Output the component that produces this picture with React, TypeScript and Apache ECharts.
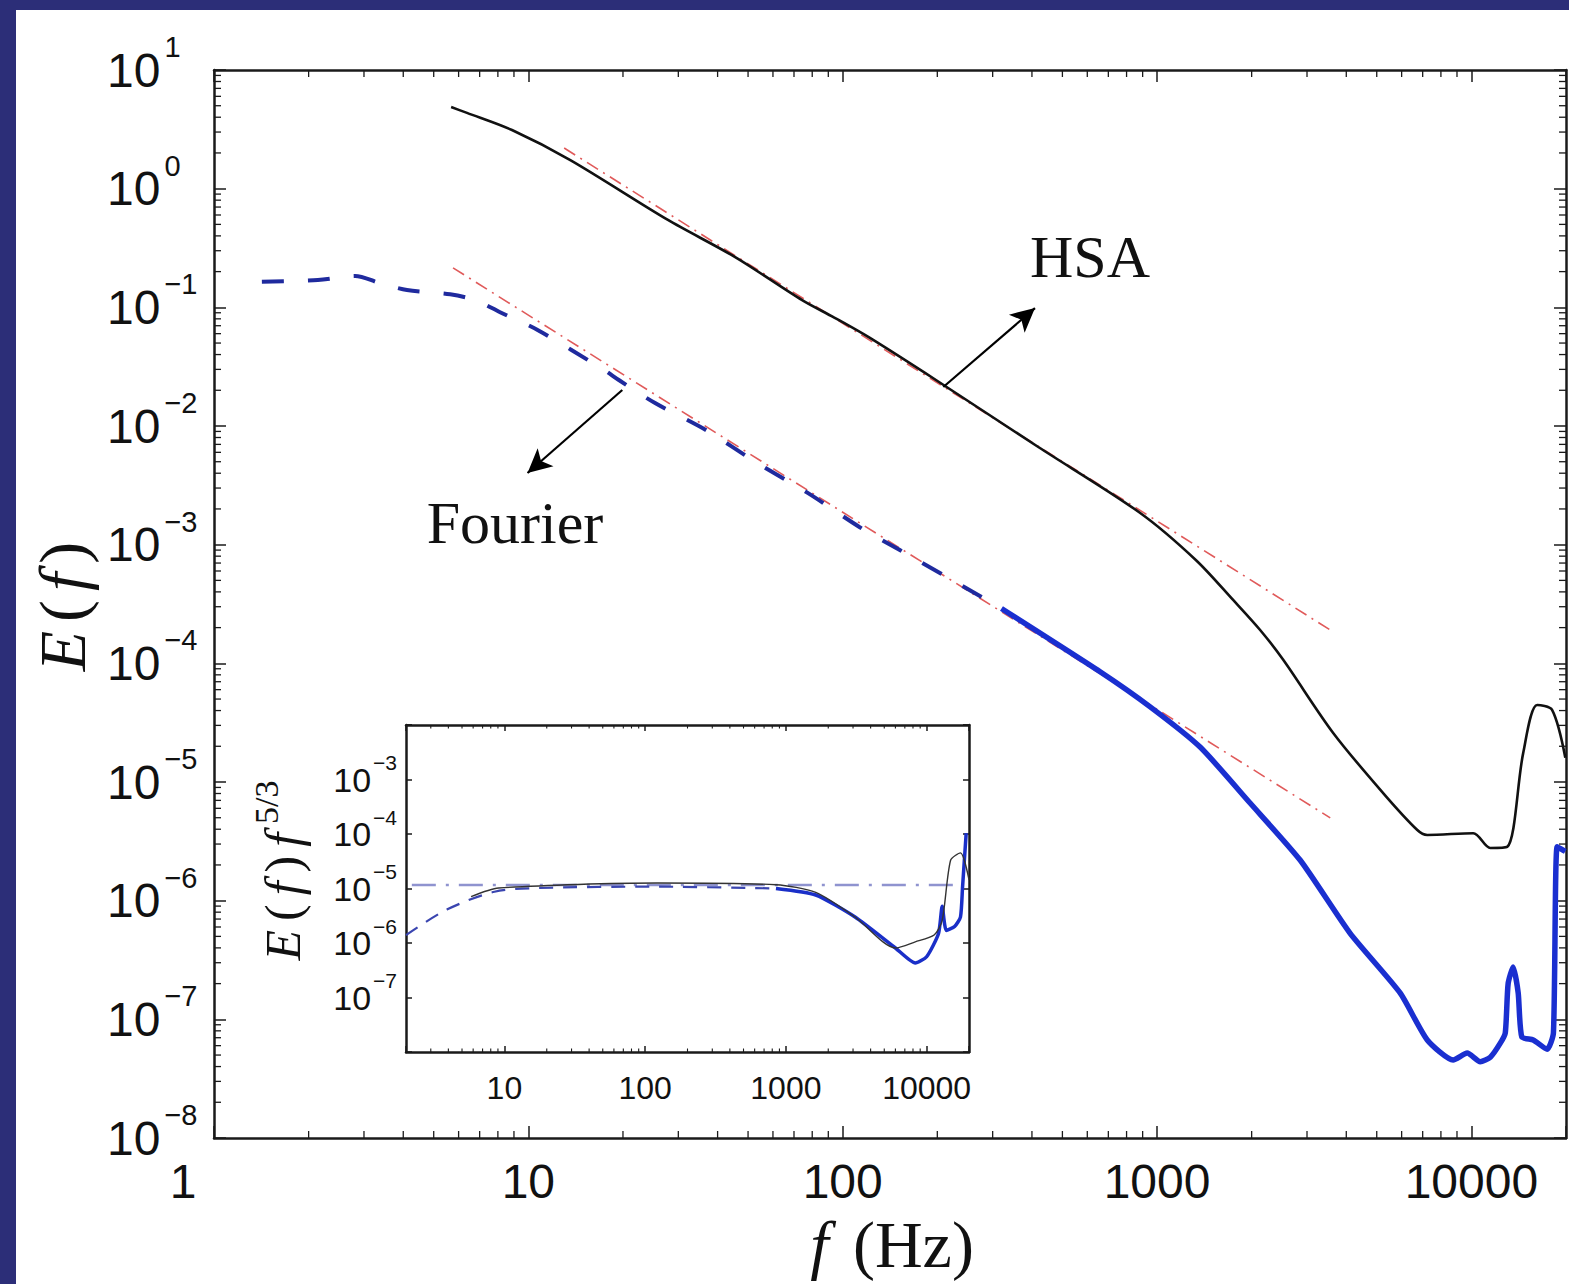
import React, { useEffect, useRef } from "react";
import * as echarts from "echarts";

// ---------- main plot data ----------
const hsaFreq = [5.68, 6.38, 8.87, 13.6, 27.8, 45.5, 74.3, 94, 121, 198, 419, 884, 1331, 1746, 2128, 2520, 3634, 5240, 6730, 7240, 10140, 11490, 13000, 14620, 16200, 18060, 19900];
const hsaE = [4.87, 4.35, 3.12, 1.74, 0.545, 0.265, 0.115, 0.082, 0.056, 0.0244, 0.00665, 0.00185, 7.4e-4, 3.42e-4, 1.91e-4, 1.07e-4, 2.59e-5, 8.07e-6, 3.94e-6, 3.58e-6, 3.7e-6, 2.78e-6, 2.84e-6, 1.76e-5, 4.45e-5, 4.05e-5, 1.6e-5];

const fourierLowFreq = [1.42, 2.14, 2.81, 3.37, 4.11, 5.64, 6.77, 8.13, 10.7, 17.4, 19.4, 25.3, 36.7, 53.4, 77.6, 113, 152, 320];
const fourierLowE = [0.164, 0.17, 0.184, 0.16, 0.14, 0.129, 0.115, 0.091, 0.0644, 0.0297, 0.0244, 0.0156, 0.00925, 0.00488, 0.00272, 0.00141, 9.0e-4, 2.9e-4];

const fourierHighFreq = [320, 659, 951, 1371, 1977, 2852, 4115, 5933, 7240, 8750, 9700, 10670, 11490, 12360, 12820, 13090, 13580, 14090, 14470, 15730, 17420, 18240, 18740, 19900];
const fourierHighE = [2.9e-4, 8.5e-5, 4.3e-5, 1.97e-5, 6.65e-6, 2.2e-6, 5.3e-7, 1.67e-7, 6.7e-8, 4.55e-8, 5.2e-8, 4.4e-8, 4.8e-8, 6.3e-8, 7.7e-8, 2.0e-7, 2.76e-7, 1.67e-7, 7.1e-8, 6.7e-8, 5.6e-8, 7.7e-8, 2.84e-6, 2.6e-6];

const refUpperFreq = [13, 3556];
const refUpperE = [2.2, 1.91e-4];
const refLowerFreq = [5.76, 3556];
const refLowerE = [0.215, 4.98e-6];

// ---------- inset data ----------
const insetBlueDashFreq = [2, 3.9, 8.5, 17.4, 122, 850];
const insetBlueDashE = [1.4e-6, 4.1e-6, 8.7e-6, 1.02e-5, 1.08e-5, 1.0e-5];
const insetBlueFreq = [850, 1630, 3100, 6000, 8300, 10000, 12150, 12900, 13800, 15800, 17400, 18000, 19100];
const insetBlueE = [1.0e-5, 7.6e-6, 3.0e-6, 8.1e-7, 4.3e-7, 5.6e-7, 1.5e-6, 4.7e-6, 1.7e-6, 2.0e-6, 3.0e-6, 1.07e-5, 1.04e-4];
const insetBlackFreq = [5.8, 9.1, 122, 850, 1630, 3100, 6000, 8300, 11300, 12900, 14800, 17400, 20000];
const insetBlackE = [7.1e-6, 1.02e-5, 1.26e-5, 1.17e-5, 8.5e-6, 3.0e-6, 8.1e-7, 1.05e-6, 1.4e-6, 2.6e-6, 3.3e-5, 4.5e-5, 1.45e-5];
const insetRefFreq = [2.2, 16000];
const insetRefE = [1.16e-5, 1.16e-5];

// ---------- annotation anchors (data coordinates) ----------
const hsaArrow = [[209, 0.0213], [409, 0.0986]];
const fourierArrow = [[19.9, 0.0201], [9.94, 0.00402]];
const hsaLabelAt = [612, 0.265];
const fourierLabelAt = [9.07, 0.00152];

// axis ranges / tick decades
const mainX = { min: 1, max: 20000 };
const mainY = { min: 1e-8, max: 10 };
const insetX = { min: 2, max: 20000 };
const insetY = { min: 1e-8, max: 1e-2 };
const insetHiddenExps = [-2, -8];

const zip = (a: number[], b: number[]) => a.map((v, i) => [v, b[i]]);

function minorValues(min: number, max: number) {
  const out: number[] = [];
  const e0 = Math.floor(Math.log10(min));
  const e1 = Math.ceil(Math.log10(max));
  for (let e = e0; e <= e1; e++) {
    for (let k = 2; k <= 9; k++) {
      const v = k * Math.pow(10, e);
      if (v > min && v < max) out.push(v);
    }
  }
  return out;
}

function expOf(v: number) {
  return Math.round(Math.log10(v));
}
function isDecade(v: number) {
  const l = Math.log10(v);
  return Math.abs(l - Math.round(l)) < 1e-6;
}
function supText(e: number) {
  return e < 0 ? "\u2212" + -e : String(e);
}

const SERIF = "Liberation Serif";
const SANS = "Liberation Sans";
const AXIS_COLOR = "#1a1a1a";

function tickSeries(values: number[], xi: number, yi: number, dir: "x" | "y", len: number, ref: number, w: number) {
  return {
    type: "custom",
    xAxisIndex: xi,
    yAxisIndex: yi,
    coordinateSystem: "cartesian2d",
    silent: true,
    clip: false,
    z: 5,
    data: values.map((v) => (dir === "x" ? [v, ref] : [ref, v])),
    renderItem: (params: any, api: any) => {
      const cs = params.coordSys;
      const style = { stroke: AXIS_COLOR, lineWidth: w };
      if (dir === "x") {
        const px = api.coord([api.value(0), ref])[0];
        const yb = cs.y + cs.height;
        return {
          type: "group",
          children: [
            { type: "line", shape: { x1: px, y1: yb, x2: px, y2: yb - len }, style },
            { type: "line", shape: { x1: px, y1: cs.y, x2: px, y2: cs.y + len }, style },
          ],
        };
      }
      const py = api.coord([ref, api.value(1)])[1];
      const xr = cs.x + cs.width;
      return {
        type: "group",
        children: [
          { type: "line", shape: { x1: cs.x, y1: py, x2: cs.x + len, y2: py }, style },
          { type: "line", shape: { x1: xr, y1: py, x2: xr - len, y2: py }, style },
        ],
      };
    },
  };
}

function logAxis(extra: any) {
  return {
    type: "log",
    logBase: 10,
    axisLine: { show: true, lineStyle: { color: AXIS_COLOR, width: 2.5 } },
    splitLine: { show: false },
    minorTick: { show: false },
    minorSplitLine: { show: false },
    ...extra,
  };
}

export default function App() {
  const ref = useRef<HTMLDivElement>(null);
  useEffect(() => {
    if (!ref.current) return;
    const chart = echarts.init(ref.current, undefined, { renderer: "svg" });

    const mainYLabel = {
      show: true,
      align: "left",
      margin: 107,
      formatter: (v: number) => (isDecade(v) ? `{b|10}{s|${supText(expOf(v))}}` : ""),
      rich: {
        b: { fontSize: 48, fontFamily: SANS, color: "#111" },
        s: { fontSize: 29, fontFamily: SANS, color: "#111", padding: [0, 0, 46, 4] },
      },
    };
    const insetYLabel = {
      show: true,
      align: "right",
      margin: 9,
      formatter: (v: number) =>
        isDecade(v) && !insetHiddenExps.includes(expOf(v)) ? `{b|10}{s|${supText(expOf(v))}}` : "",
      rich: {
        b: { fontSize: 34, fontFamily: SANS, color: "#111" },
        s: { fontSize: 21, fontFamily: SANS, color: "#111", padding: [0, 0, 34, 2] },
      },
    };
    const plainXLabel = (size: number, margin: number, shiftMin: boolean) => ({
      show: true,
      margin,
      fontSize: size,
      fontFamily: SANS,
      color: "#111",
      formatter: (v: number) => {
        if (!isDecade(v)) return "";
        if (shiftMin && expOf(v) === 0) return "{m|1}";
        return String(Math.round(v));
      },
      rich: {
        m: { fontSize: size, fontFamily: SANS, color: "#111", padding: [0, 62, 0, 0] },
      },
    });

    const option: any = {
      animation: false,
      backgroundColor: "#2c2e78",
      textStyle: { fontFamily: SANS },
      grid: [
        { left: 214, top: 70, right: 3, bottom: 146, containLabel: false, outerBoundsMode: "none" },
        { left: 406, top: 725, width: 563, height: 327, containLabel: false, outerBoundsMode: "none" },
      ],
      xAxis: [
        logAxis({ gridIndex: 0, position: "bottom", ...mainX, axisTick: { show: true, inside: true, length: 12, lineStyle: { color: AXIS_COLOR, width: 1.5 } }, axisLabel: plainXLabel(48, 19, true) }),
        logAxis({ gridIndex: 0, position: "top", ...mainX, axisTick: { show: true, inside: true, length: 12, lineStyle: { color: AXIS_COLOR, width: 1.5 } }, axisLabel: { show: false } }),
        logAxis({ gridIndex: 1, position: "bottom", ...insetX, axisTick: { show: true, inside: true, length: 6, lineStyle: { color: AXIS_COLOR, width: 1.5 } }, axisLabel: plainXLabel(32, 20, false) }),
        logAxis({ gridIndex: 1, position: "top", ...insetX, axisTick: { show: true, inside: true, length: 6, lineStyle: { color: AXIS_COLOR, width: 1.5 } }, axisLabel: { show: false } }),
      ],
      yAxis: [
        logAxis({ gridIndex: 0, position: "left", ...mainY, axisTick: { show: true, inside: true, length: 12, lineStyle: { color: AXIS_COLOR, width: 1.5 } }, axisLabel: mainYLabel }),
        logAxis({ gridIndex: 0, position: "right", ...mainY, axisTick: { show: true, inside: true, length: 12, lineStyle: { color: AXIS_COLOR, width: 1.5 } }, axisLabel: { show: false } }),
        logAxis({ gridIndex: 1, position: "left", ...insetY, axisTick: { show: true, inside: true, length: 6, lineStyle: { color: AXIS_COLOR, width: 1.5 } }, axisLabel: insetYLabel }),
        logAxis({ gridIndex: 1, position: "right", ...insetY, axisTick: { show: true, inside: true, length: 6, lineStyle: { color: AXIS_COLOR, width: 1.5 } }, axisLabel: { show: false } }),
      ],
      graphic: [
        { id: "bg", type: "rect", z: -100, silent: true, shape: { x: 16, y: 10, width: 1560, height: 1280 }, style: { fill: "#ffffff" } },
        {
          id: "xtitle",
          type: "text",
          x: 892,
          y: 1244,
          silent: true,
          style: {
            text: "{i|f}{r| (Hz)}",
            align: "center",
            verticalAlign: "middle",
            rich: {
              i: { fontFamily: SERIF, fontStyle: "italic", fontSize: 66, fill: "#111", padding: [0, 8, 0, 0] },
              r: { fontFamily: SERIF, fontSize: 66, fill: "#111" },
            },
          },
        },
        {
          id: "ytitle",
          type: "text",
          x: 62,
          y: 607,
          rotation: Math.PI / 2,
          silent: true,
          style: {
            text: "{i|E}{r|(}{i|f}{r|)}",
            align: "center",
            verticalAlign: "middle",
            rich: {
              i: { fontFamily: SERIF, fontStyle: "italic", fontSize: 66, fill: "#111", padding: [0, 5, 0, 5] },
              r: { fontFamily: SERIF, fontSize: 66, fill: "#111", padding: [0, 4, 0, 4] },
            },
          },
        },
        {
          id: "insetytitle",
          type: "text",
          x: 283,
          y: 873,
          rotation: Math.PI / 2,
          silent: true,
          style: {
            text: "{i|E}{r|(}{i|f}{r|)}{i|f}{s|5/3}",
            align: "center",
            verticalAlign: "middle",
            rich: {
              i: { fontFamily: SERIF, fontStyle: "italic", fontSize: 50, fill: "#111", padding: [0, 5, 0, 5] },
              r: { fontFamily: SERIF, fontSize: 50, fill: "#111", padding: [0, 4, 0, 4] },
              s: { fontFamily: SERIF, fontSize: 34, fill: "#111", padding: [0, 0, 34, 4] },
            },
          },
        },
      ],
      series: [
        {
          type: "line",
          name: "refUpper",
          xAxisIndex: 0,
          yAxisIndex: 0,
          data: zip(refUpperFreq, refUpperE),
          showSymbol: false,
          symbol: "none",
          z: 1,
          lineStyle: { color: "#e05a5a", width: 1.6, type: [13, 6, 2, 6] },
        },
        {
          type: "line",
          name: "refLower",
          xAxisIndex: 0,
          yAxisIndex: 0,
          data: zip(refLowerFreq, refLowerE),
          showSymbol: false,
          symbol: "none",
          z: 1,
          lineStyle: { color: "#e05a5a", width: 1.6, type: [13, 6, 2, 6] },
        },
        {
          type: "line",
          name: "HSA",
          xAxisIndex: 0,
          yAxisIndex: 0,
          data: zip(hsaFreq, hsaE),
          smooth: 0.3,
          showSymbol: false,
          symbol: "none",
          z: 3,
          lineStyle: { color: "#111111", width: 2.6 },
          markLine: {
            silent: true,
            symbol: ["none", "arrow"],
            symbolSize: [18, 24],
            label: { show: false },
            emphasis: { disabled: true },
            lineStyle: { color: "#000", width: 2.2, type: "solid" },
            data: [
              [{ coord: hsaArrow[0] }, { coord: hsaArrow[1] }],
              [{ coord: fourierArrow[0] }, { coord: fourierArrow[1] }],
            ],
          },
        },
        {
          type: "line",
          name: "Fourier",
          xAxisIndex: 0,
          yAxisIndex: 0,
          data: zip(fourierLowFreq, fourierLowE),
          smooth: 0.3,
          showSymbol: false,
          symbol: "none",
          z: 2,
          lineStyle: { color: "#1f2a9e", width: 4, type: [22, 24] },
        },
        {
          type: "line",
          name: "FourierHigh",
          xAxisIndex: 0,
          yAxisIndex: 0,
          data: zip(fourierHighFreq, fourierHighE),
          smooth: 0.2,
          showSymbol: false,
          symbol: "none",
          z: 2,
          lineStyle: { color: "#1a2fd0", width: 5.5 },
        },
        // inset
        {
          type: "line",
          xAxisIndex: 2,
          yAxisIndex: 2,
          data: zip(insetRefFreq, insetRefE),
          showSymbol: false,
          symbol: "none",
          z: 1,
          lineStyle: { color: "#8f93cf", width: 2.5, type: [24, 10, 3, 10] },
        },
        {
          type: "line",
          xAxisIndex: 2,
          yAxisIndex: 2,
          data: zip(insetBlueDashFreq, insetBlueDashE),
          smooth: 0.3,
          showSymbol: false,
          symbol: "none",
          z: 2,
          lineStyle: { color: "#3a45b0", width: 2.2, type: [14, 10] },
        },
        {
          type: "line",
          xAxisIndex: 2,
          yAxisIndex: 2,
          data: zip(insetBlueFreq, insetBlueE),
          smooth: 0.2,
          showSymbol: false,
          symbol: "none",
          z: 2,
          lineStyle: { color: "#1a2fc8", width: 3.5 },
        },
        {
          type: "line",
          xAxisIndex: 2,
          yAxisIndex: 2,
          data: zip(insetBlackFreq, insetBlackE),
          smooth: 0.25,
          showSymbol: false,
          symbol: "none",
          z: 3,
          lineStyle: { color: "#333333", width: 1.4 },
        },
        // minor ticks
        tickSeries(minorValues(mainX.min, mainX.max), 0, 0, "x", 7, 1e-3, 1.3),
        tickSeries(minorValues(mainY.min, mainY.max), 0, 0, "y", 7, 100, 1.3),
        tickSeries(minorValues(insetX.min, insetX.max), 2, 2, "x", 3.5, 1e-5, 1.1),
      ],
    };

    chart.setOption(option);

    const p = (d: number[]) => chart.convertToPixel({ xAxisIndex: 0, yAxisIndex: 0 }, d) as number[];
    const hsaPx = p(hsaLabelAt);
    const fPx = p(fourierLabelAt);
    chart.setOption({
      graphic: [
        {
          id: "hsaLabel",
          type: "text",
          x: hsaPx[0],
          y: hsaPx[1],
          silent: true,
          style: { text: "HSA", fontFamily: SERIF, fontSize: 60, fill: "#111", align: "center", verticalAlign: "middle" },
        },
        {
          id: "fourierLabel",
          type: "text",
          x: fPx[0],
          y: fPx[1],
          silent: true,
          style: { text: "Fourier", fontFamily: SERIF, fontSize: 60, fill: "#111", align: "center", verticalAlign: "middle" },
        },
      ],
    });

    return () => chart.dispose();
  }, []);

  return (
    <div style={{ position: "fixed", left: 0, top: 0, width: 1569, height: 1284 }}>
      <div ref={ref} style={{ width: 1569, height: 1284 }} />
    </div>
  );
}
